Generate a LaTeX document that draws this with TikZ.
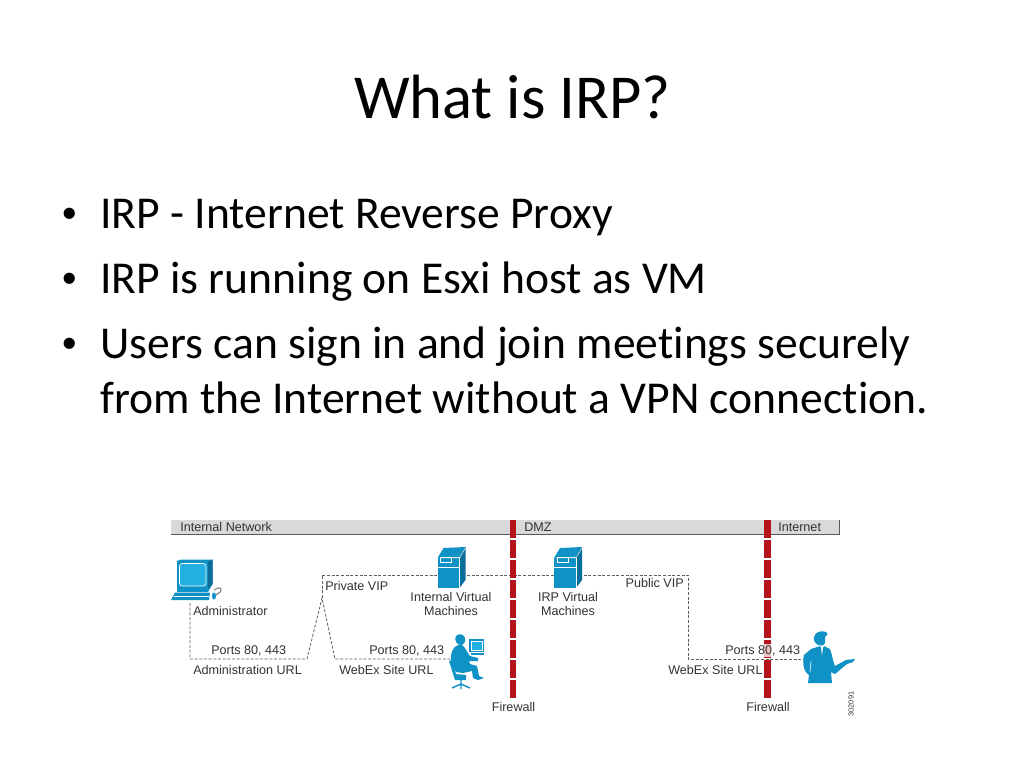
\documentclass[tikz,border=0pt]{standalone}
\usepackage{fontspec}
\setmainfont{Carlito}[Ligatures=NoCommon]
\newfontfamily\lab{Liberation Sans}
\definecolor{icon}{HTML}{1192C6}
\definecolor{icondk}{HTML}{0B6E9A}
\definecolor{iconlt}{HTML}{22B0E0}
\definecolor{wall}{HTML}{B5121B}
\definecolor{band}{HTML}{D9D9D9}
\definecolor{ink}{HTML}{333333}
\tikzset{
  x=0.75pt,y=-0.75pt,
  titletext/.style={font=\fontsize{46.9}{50}\selectfont,text=black,inner sep=0pt},
  bodytext/.style={font=\fontsize{34.2}{40}\selectfont,text=black,inner sep=0pt,anchor=base west},
  dottext/.style={font=\lab\fontsize{31}{36}\selectfont,text=black,inner sep=0pt,anchor=base west},
  lbl/.style={font=\lab\fontsize{9.45}{11}\selectfont,text=ink,inner sep=0pt,align=center},
  link/.style={draw=gray!75!black,line width=0.6pt,dash pattern=on 2.2pt off 1.3pt},
  wallline/.style={draw=wall,line width=4.6pt,dash pattern=on 13.6pt off 1.4pt}
}
\begin{document}
\begin{tikzpicture}
\useasboundingbox (0,0) rectangle (1024,768);
\fill[white] (0,0) rectangle (1024,768);
\node[titletext] (title) at (512.5,97) {What is IRP?};
\node[dottext] (b1dot) at (62,227) {•};
\node[bodytext] (b1) at (100,228) {IRP - Internet Reverse Proxy};
\node[dottext] (b2dot) at (62,292) {•};
\node[bodytext] (b2) at (100,293) {IRP is running on Esxi host as VM};
\node[dottext] (b3dot) at (62,357) {•};
\node[bodytext] (b3) at (100,358) {Users can sign in and join meetings securely};
\node[bodytext] (b4) at (100,413) {from the Internet without a VPN connection.};

% band
\fill[band] (171,520) rectangle (839,534);
\draw[gray!70!black,line width=0.6pt] (171,534) -- (839,534) -- (839,520);

% link coordinates
\coordinate (admin) at (190,603);
\coordinate (adminb) at (190,659);
\coordinate (adminr) at (307,659);
\coordinate (peak) at (322,598);
\coordinate (vipl) at (322,575);
\coordinate (vipr) at (688,575);
\coordinate (pubb) at (688,659);
\coordinate (user) at (815,659);
\coordinate (sitel) at (335,659);
\coordinate (siter) at (450,659);
\draw[link] (admin) -- (adminb) -- (adminr) -- (peak) -- (sitel) -- (siter);
\draw[link] (peak) -- (vipl) -- (vipr) -- (pubb) -- (user);

% firewalls
\coordinate (w1t) at (513,520);
\coordinate (w1b) at (513,698);
\coordinate (w2t) at (767.5,520);
\coordinate (w2b) at (767.5,698);
\draw[wallline] (w1t) -- (w1b);
\draw[wallline] (w2t) -- (w2b);
\fill[white,opacity=0.75] (762,644) rectangle (773,657);

% computer
\begin{scope}
\fill[icon] (177,561) -- (181,559.5) -- (212.5,559.5) -- (212.5,584) -- (208,592) -- (177,592) -- cycle;
\fill[icondk] (208,561.5) -- (212.5,559.5) -- (212.5,584) -- (208,589) -- cycle;
\fill[iconlt,draw=white,line width=0.5pt,rounded corners=2pt] (179.5,563.5) rectangle (206,586);
\fill[icon] (175,592.5) -- (210,592.5) -- (209,600) -- (171,600) -- cycle;
\draw[white,line width=0.4pt] (174,596) -- (209,596);
\draw[gray,line width=0.8pt] (214,598) .. controls (216,592) and (222,594) .. (221,589) .. controls (220,587) and (216,588) .. (214,590);
\fill[icon] (214,596) ellipse (2 and 3.6);
\end{scope}

% servers
\foreach \n/\xa in {s1/437.5,s2/554}{
  \begin{scope}[shift={(\xa,0)}]
    \coordinate (\n) at (11,570);
    \fill[icon] (0,558) -- (6,548) -- (28,547) -- (22,557) -- cycle;
    \fill[icondk] (22,557) -- (28,547) -- (28,580) -- (22,588) -- cycle;
    \fill[icon] (0,558) rectangle (22,588);
    \draw[white,line width=0.4pt] (0,567) -- (22,567);
    \draw[white,line width=0.4pt] (3,557.5) rectangle (14,562);
    \draw[white,line width=0.3pt] (0,558) -- (22,558) -- (28,548);
    \draw[white,line width=0.3pt] (22,558) -- (22,588);
  \end{scope}
}

% seated user
\begin{scope}
\fill[icon] (456,636) .. controls (459,633) and (464,634) .. (465,638) .. controls (466,642) and (464,645) .. (460,645) .. controls (456,644) and (454,639) .. (456,636) -- cycle;
\fill[icon] (451,656) .. controls (452,648) and (456,644) .. (462,645) .. controls (465,647) and (467,652) .. (470,656) -- (478,658) -- (478,661) -- (469,661) -- (470,664) -- (477,666) -- (479,676) -- (484,678) -- (478,680) -- (473,678) -- (472,671) -- (463,673) -- (456,672) .. controls (452,667) and (450,661) .. (451,656) -- cycle;
\fill[icon] (449,661) -- (452,660) -- (456,674) -- (466,675) -- (466,680) -- (455,680) -- cycle;
\draw[icon,line width=1.1pt] (461,680) -- (461,684) (452,688) -- (461,684) -- (470,688) (461,684) -- (461,689);
\fill[icon] (469,639) rectangle (484,652);
\fill[iconlt,draw=white,line width=0.4pt] (471,641) rectangle (482,650);
\fill[icon] (471,653) rectangle (484,655);
\coordinate (seated) at (462,660);
\end{scope}

% standing user
\begin{scope}
\fill[icon] (814,637) .. controls (815,632) and (821,630) .. (826,632) .. controls (829,634) and (827,636) .. (825,637) -- (825,643) .. controls (824,646) and (820,646) .. (818,645) .. controls (815,643) and (813,640) .. (814,637) -- cycle;
\fill[icon] (811,649) -- (820,646) -- (821,648) -- (822,656) -- (823,648) -- (824,646) -- (830,649) .. controls (832,654) and (833,662) .. (835,666) -- (846,660) -- (855,659) -- (853,662) -- (847,664) -- (835,674) -- (831,672) -- (832,683) -- (808,683) -- (809,675) .. controls (804,672) and (802,664) .. (804,655) -- cycle;
\draw[white,line width=0.4pt] (811,661) -- (810,672);
\coordinate (standing) at (820,660);
\end{scope}

% labels
\node[lbl,anchor=west] (ln1) at (180,527) {Internal Network};
\node[lbl,anchor=west] (ln2) at (524,527) {DMZ};
\node[lbl,anchor=west] (ln3) at (778,527) {Internet};
\node[lbl,anchor=west] (ln4) at (193,611) {Administrator};
\node[lbl,anchor=west] (ln5) at (325,586) {Private VIP};
\node[lbl] (ln6) at (451,604) {Internal Virtual\\[0pt]Machines};
\node[lbl] (ln7) at (568,604) {IRP Virtual\\[0pt]Machines};
\node[lbl,anchor=east] (ln8) at (684,583) {Public VIP};
\node[lbl,anchor=west] (ln9) at (211,650.5) {Ports 80, 443};
\node[lbl,anchor=west] (ln10) at (193,670) {Administration URL};
\node[lbl,anchor=west] (ln11) at (369,650.5) {Ports 80, 443};
\node[lbl,anchor=west] (ln12) at (339,670) {WebEx Site URL};
\node[lbl,anchor=west] (ln13) at (725,650.5) {Ports 80, 443};
\node[lbl,anchor=west] (ln14) at (668,670) {WebEx Site URL};
\node[lbl] (ln15) at (513.5,707) {Firewall};
\node[lbl] (ln16) at (768,707) {Firewall};
\node[lbl,rotate=90,font=\lab\fontsize{5.5}{6}\selectfont] (ln17) at (851,704) {302091};
\end{tikzpicture}
\end{document}
